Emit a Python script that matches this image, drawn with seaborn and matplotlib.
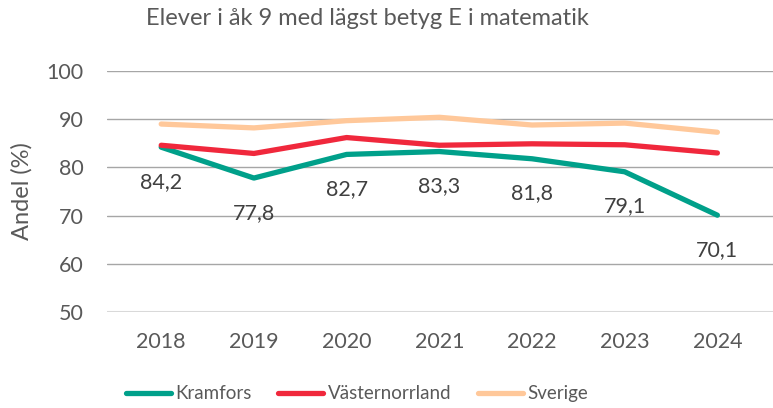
import pandas as pd
import numpy as np
import matplotlib
matplotlib.use('Agg')
import matplotlib.pyplot as plt
import seaborn as sns

sns.set_theme(style='white')
plt.rcParams['font.family'] = ['Lato', 'DejaVu Sans']

years = ['2018', '2019', '2020', '2021', '2022', '2023', '2024']
kramfors = [84.2, 77.8, 82.7, 83.3, 81.8, 79.1, 70.1]
vasternorrland = [84.6, 82.9, 86.2, 84.6, 84.9, 84.7, 83.0]
sverige = [89.0, 88.2, 89.7, 90.4, 88.8, 89.2, 87.3]

series = ['Kramfors', 'Västernorrland', 'Sverige']
colors = ['#00A08A', '#F0283C', '#FFC89A']

df = pd.DataFrame({'year': years * 3,
                   'value': kramfors + vasternorrland + sverige,
                   'serie': np.repeat(series, len(years))})
df['x'] = list(range(len(years))) * 3

fig = plt.figure(figsize=(7.73, 4.08), dpi=100)
ax = fig.add_axes([0.139, 0.235, 0.861, 0.591])

sns.lineplot(data=df, x='x', y='value', hue='serie', palette=colors,
             hue_order=series, linewidth=3.8, ax=ax, legend=False,
             solid_capstyle='round')

for i, v in enumerate(kramfors):
    ax.annotate(f'{v:.1f}'.replace('.', ','), (i, v), xytext=(0, -25),
                textcoords='offset points', ha='center', va='center',
                fontsize=15.5, color='#404040')

ax.set_ylim(50, 100)
ax.set_yticks(range(50, 101, 10))
ax.set_xlim(-0.58, 6.6)
ax.set_xticks(range(len(years)))
ax.set_xticklabels(years)
ax.grid(axis='y', color='#A6A6A6', linewidth=1)
ax.grid(axis='x', visible=False)
for s in ax.spines.values():
    s.set_visible(False)
ax.axhline(50, color='#D9D9D9', linewidth=1.5, zorder=1)
ax.tick_params(axis='both', length=0, labelsize=15.5, labelcolor='#595959')
ax.tick_params(axis='y', pad=17)
ax.tick_params(axis='x', pad=14)
ax.set_xlabel('')
ax.set_ylabel('Andel (%)', fontsize=17, color='#595959', labelpad=10)

fig.text(0.475, 0.955, 'Elever i åk 9 med lägst betyg E i matematik',
         ha='center', va='center', fontsize=17, color='#595959')

handles = [plt.Line2D([], [], color=c, linewidth=3.8, solid_capstyle='round') for c in colors]
fig.legend(handles, series, loc='center', bbox_to_anchor=(0.462, 0.035), ncol=3,
           frameon=False, fontsize=13.5, handlelength=2.4, handletextpad=0.25,
           columnspacing=1.4, labelcolor='#595959')

fig.savefig('out.png', dpi=100)
